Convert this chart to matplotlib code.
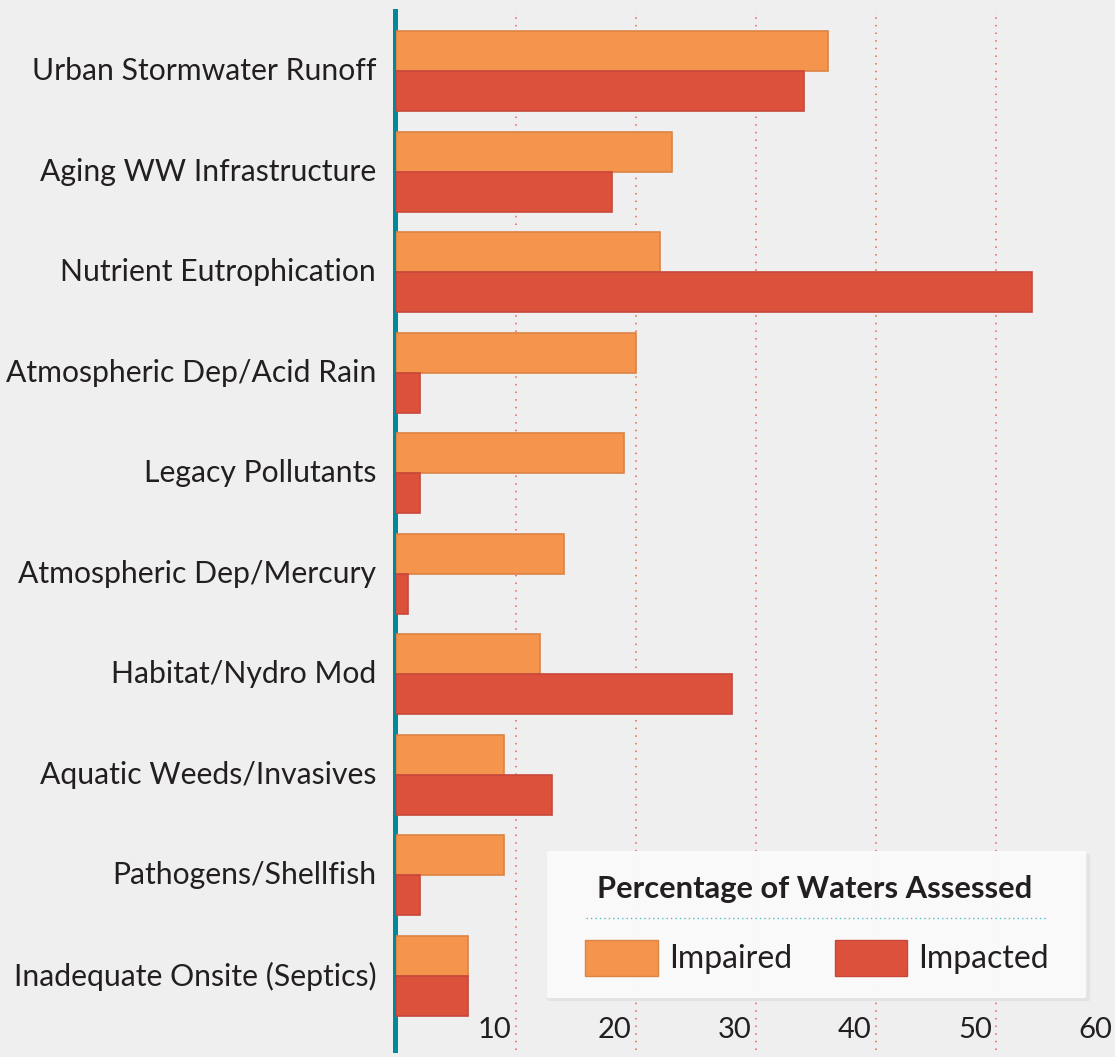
import matplotlib
matplotlib.use("Agg")
import matplotlib.pyplot as plt
from matplotlib.patches import FancyBboxPatch, Rectangle

categories = [
    "Urban Stormwater Runoff",
    "Aging WW Infrastructure",
    "Nutrient Eutrophication",
    "Atmospheric Dep/Acid Rain",
    "Legacy Pollutants",
    "Atmospheric Dep/Mercury",
    "Habitat/Nydro Mod",
    "Aquatic Weeds/Invasives",
    "Pathogens/Shellfish",
    "Inadequate Onsite (Septics)",
]
impaired = [36, 23, 22, 20, 19, 14, 12, 9, 9, 6]
impacted = [34, 18, 53, 2, 2, 1, 28, 13, 2, 6]
tick_values = [10, 20, 30, 40, 50, 60]
legend_title = "Percentage of Waters Assessed"
series_names = ["Impaired", "Impacted"]

ORANGE = "#f4944d"
ORANGE_EDGE = "#dc8443"
RED = "#dc513c"
RED_EDGE = "#c8473a"
TEAL = "#00899a"
GRID = "#f0604f"
TEXT = "#231f20"
FONT = "Lato"

W, H = 1115, 1057
fig = plt.figure(figsize=(W / 100, H / 100), dpi=100)
fig.patch.set_facecolor("#efefef")

x0px, x1px = 396, 1116
top_px, bot_px = 11, 1050
ax = fig.add_axes([x0px / W, 1 - bot_px / H, (x1px - x0px) / W, (bot_px - top_px) / H])
ax.set_facecolor("none")
ax.set_xlim(0, 60)
pitch = 100.56
first_center = 71
ylim_top = (top_px - first_center) / pitch
ylim_bot = (bot_px - first_center) / pitch
ax.set_ylim(ylim_bot, ylim_top)
for s in ax.spines.values():
    s.set_visible(False)
ax.set_xticks([])
ax.set_yticks([])

bh = 40 / pitch
ys = list(range(len(categories)))
for v in tick_values[:-1]:
    ax.axvline(v, color=GRID, lw=1.1, linestyle=(0, (1, 4.0)), zorder=1)
ax.axvline(-0.08, color=TEAL, lw=3.6, zorder=2, clip_on=False)
ax.barh([y - bh / 2 for y in ys], impaired, height=bh, color=ORANGE,
        edgecolor=ORANGE_EDGE, linewidth=1.2, zorder=3)
ax.barh([y + bh / 2 for y in ys], impacted, height=bh, color=RED,
        edgecolor=RED_EDGE, linewidth=1.2, zorder=3)

for y, c in zip(ys, categories):
    ax.text(-1.65, y, c, ha="right", va="center", fontsize=21.7, color=TEXT,
            family=FONT, clip_on=False)

for v in tick_values:
    ax.text(v - 0.35, (1030 - first_center) / pitch, str(v), ha="right", va="center",
            fontsize=21, color=TEXT, family=FONT, zorder=5)

# legend box
lx0, lx1, ly0, ly1 = 549, 1084, 853, 996
shadow = FancyBboxPatch((lx0 / W, 1 - (ly1 + 3) / H), (lx1 - lx0 + 4) / W, (ly1 - ly0) / H,
                        boxstyle="round,pad=0.002", transform=fig.transFigure,
                        facecolor="#d8d8d8", edgecolor="none", alpha=0.5, zorder=4)
fig.patches.append(shadow)
box = FancyBboxPatch((lx0 / W, 1 - ly1 / H), (lx1 - lx0) / W, (ly1 - ly0) / H,
                     boxstyle="round,pad=0.002", transform=fig.transFigure,
                     facecolor="#fbfbfb", edgecolor="none", alpha=0.95, zorder=5)
fig.patches.append(box)
fig.text(815 / W, 1 - 889 / H, legend_title, ha="center", va="center",
         fontsize=22.2, fontweight="bold", color=TEXT, family=FONT, zorder=6)
fig.add_artist(plt.Line2D([586 / W, 1046 / W], [1 - 918 / H] * 2, transform=fig.transFigure,
                          color="#5ab8c4", lw=1.0, linestyle=(0, (1, 2.2)), zorder=6))
for (px0, px1, tx), col, ecol, name in zip([(585, 658, 669), (835, 907, 918)],
                                           [ORANGE, RED], [ORANGE_EDGE, RED_EDGE], series_names):
    r = Rectangle((px0 / W, 1 - 976 / H), (px1 - px0) / W, 36 / H, transform=fig.transFigure,
                  facecolor=col, edgecolor=ecol, lw=1.0, zorder=6)
    fig.patches.append(r)
    fig.text(tx / W, 1 - 959 / H, name, ha="left", va="center", fontsize=23,
             color=TEXT, family=FONT, zorder=6)

fig.savefig("out.png", dpi=100, facecolor=fig.get_facecolor())
